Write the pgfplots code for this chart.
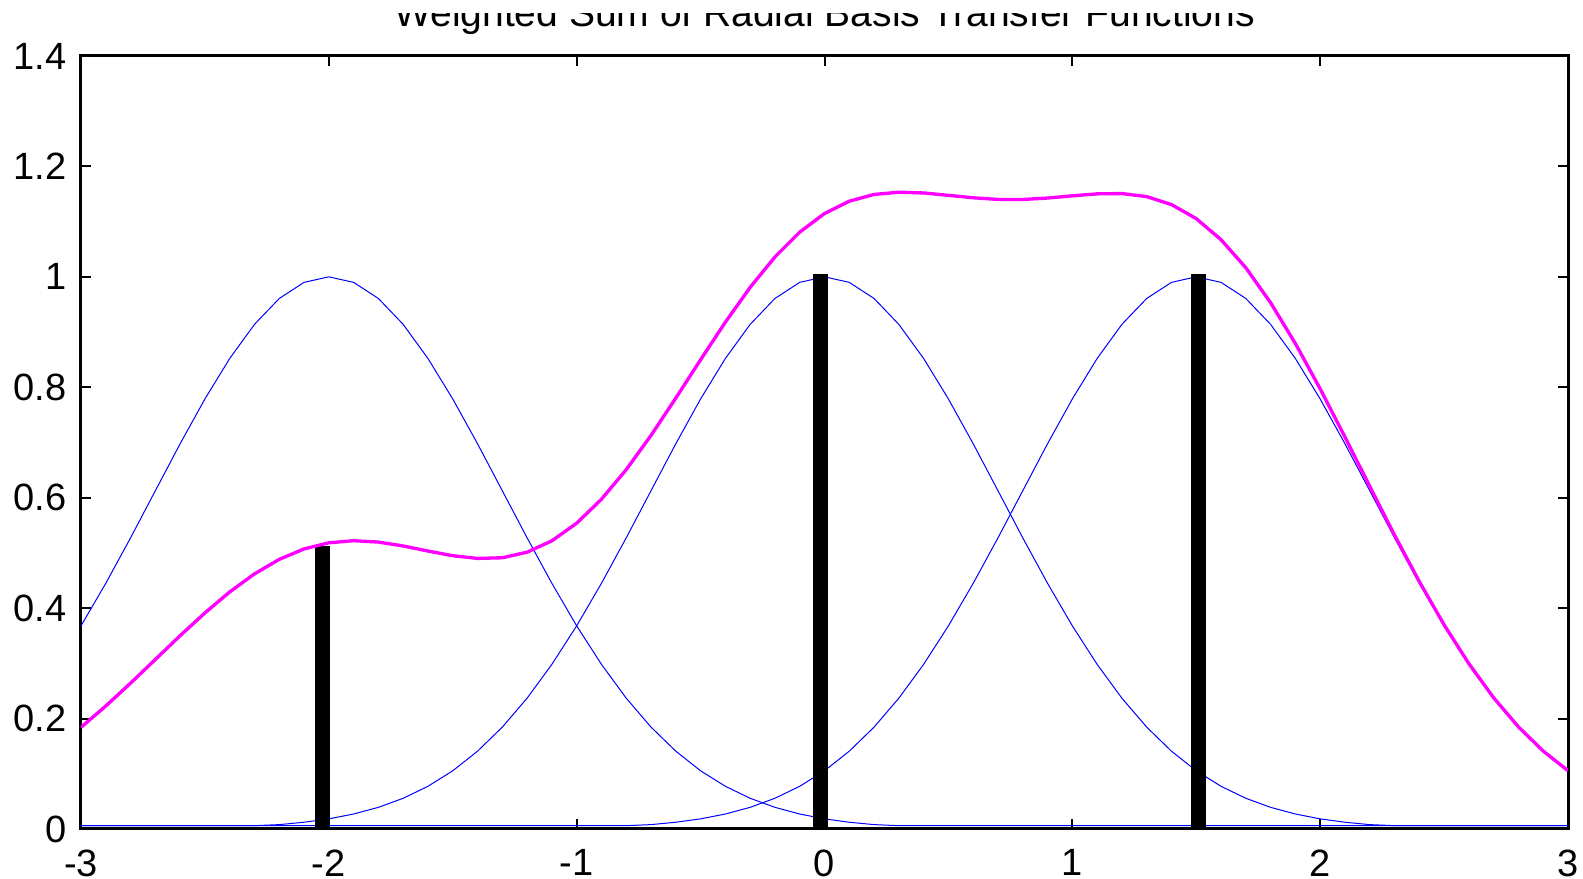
\documentclass[border=0pt]{standalone}
\usepackage{pgfplots}
\pgfplotsset{compat=1.18}
\usepackage{pgfplotstable}
\usepackage{fontspec}
\setmainfont{Liberation Sans}
\definecolor{mag}{RGB}{255,0,255}
\definecolor{blu}{RGB}{0,0,255}

\pgfplotstableread{
x a b c s
-3.0 0.3679 0.006 0.006 0.1841
-2.9 0.4449 0.006 0.006 0.2227
-2.8 0.5273 0.006 0.006 0.2641
-2.7 0.6126 0.006 0.006 0.3070
-2.6 0.6977 0.006 0.006 0.3501
-2.5 0.7788 0.006 0.006 0.3913
-2.4 0.8521 0.006 0.006 0.4293
-2.3 0.9139 0.006 0.006 0.4620
-2.2 0.9608 0.0079 0.006 0.4883
-2.1 0.9900 0.0122 0.006 0.5072
-2.0 1.0000 0.0183 0.006 0.5183
-1.9 0.9900 0.0271 0.006 0.5221
-1.8 0.9608 0.0392 0.006 0.5196
-1.7 0.9139 0.0556 0.006 0.5126
-1.6 0.8521 0.0773 0.006 0.5034
-1.5 0.7788 0.1054 0.006 0.4949
-1.4 0.6977 0.1409 0.006 0.4900
-1.3 0.6126 0.1845 0.006 0.4912
-1.2 0.5273 0.2369 0.006 0.5013
-1.1 0.4449 0.2982 0.006 0.5219
-1.0 0.3679 0.3679 0.006 0.5538
-0.9 0.2982 0.4449 0.006 0.5972
-0.8 0.2369 0.5273 0.006 0.6508
-0.7 0.1845 0.6126 0.0079 0.7128
-0.6 0.1409 0.6977 0.0122 0.7804
-0.5 0.1054 0.7788 0.0183 0.8498
-0.4 0.0773 0.8521 0.0271 0.9179
-0.3 0.0556 0.9139 0.0392 0.9809
-0.2 0.0392 0.9608 0.0556 1.0360
-0.1 0.0271 0.9900 0.0773 1.0809
0.0 0.0183 1.0000 0.1054 1.1146
0.1 0.0122 0.9900 0.1409 1.1370
0.2 0.0079 0.9608 0.1845 1.1492
0.3 0.006 0.9139 0.2369 1.1533
0.4 0.006 0.8521 0.2982 1.1519
0.5 0.006 0.7788 0.3679 1.1476
0.6 0.006 0.6977 0.4449 1.1432
0.7 0.006 0.6126 0.5273 1.1402
0.8 0.006 0.5273 0.6126 1.1401
0.9 0.006 0.4449 0.6977 1.1427
1.0 0.006 0.3679 0.7788 1.1467
1.1 0.006 0.2982 0.8521 1.1503
1.2 0.006 0.2369 0.9139 1.1508
1.3 0.006 0.1845 0.9608 1.1453
1.4 0.006 0.1409 0.9900 1.1309
1.5 0.006 0.1054 1.0000 1.1054
1.6 0.006 0.0773 0.9900 1.0673
1.7 0.006 0.0556 0.9608 1.0164
1.8 0.006 0.0392 0.9139 0.9531
1.9 0.006 0.0271 0.8521 0.8792
2.0 0.006 0.0183 0.7788 0.7971
2.1 0.006 0.0122 0.6977 0.7099
2.2 0.006 0.0079 0.6126 0.6205
2.3 0.006 0.006 0.5273 0.5323
2.4 0.006 0.006 0.4449 0.4481
2.5 0.006 0.006 0.3679 0.3698
2.6 0.006 0.006 0.2982 0.2994
2.7 0.006 0.006 0.2369 0.2376
2.8 0.006 0.006 0.1845 0.1849
2.9 0.006 0.006 0.1409 0.1411
3.0 0.006 0.006 0.1054 0.1055
}\curves

\begin{document}
\begin{tikzpicture}
\begin{axis}[
  name=ax,
  scale only axis,
  width=446.1pt, height=231.9pt,
  xmin=-3, xmax=3, ymin=0, ymax=1.4,
  axis line style={line width=0.9pt},
  xtick={-3,-2,-1,0,1,2,3},
  xticklabels={-3,-2,-1,0,1,2,3},
  ytick={0,0.2,0.4,0.6,0.8,1,1.2,1.4},
  yticklabels={0,0.2,0.4,0.6,0.8,1,1.2,1.4},
  tick align=inside,
  major tick length=3pt,
  tick style={line width=0.6pt, black},
  ticklabel style={font=\fontsize{11.4}{13}\selectfont},
  yticklabel style={inner sep=0pt, anchor=east, xshift=-4.2pt},
  xticklabel style={inner sep=0pt, anchor=north, yshift=-6.0pt},
  title={Weighted Sum of Radial Basis Transfer Functions},
  title style={font=\fontsize{11.7}{13}\selectfont, at={(0.5,1)}, anchor=base, yshift=2.75pt, inner sep=0pt},
]
\addplot[blu, line width=0.3pt] table[x=x, y=a] {\curves};
\addplot[blu, line width=0.3pt] table[x=x, y=b] {\curves};
\addplot[blu, line width=0.3pt] table[x=x, y=c] {\curves};
\addplot[black, line width=4.6pt, line cap=butt] coordinates {(-2.025,0) (-2.025,0.512)};
\addplot[black, line width=4.6pt, line cap=butt] coordinates {(-0.015,0) (-0.015,1.005)};
\addplot[black, line width=4.6pt, line cap=butt] coordinates {(1.51,0) (1.51,1.005)};
\addplot[mag, line width=1pt] table[x=x, y=s] {\curves};
\end{axis}
\fill[white] ([xshift=-24.3pt,yshift=16.8pt]ax.north west) rectangle ([xshift=4.5pt,yshift=12.9pt]ax.north east);
\pgfresetboundingbox
\path[use as bounding box] ([xshift=-24.3pt,yshift=-15pt]ax.south west) rectangle ([xshift=4.5pt,yshift=16.8pt]ax.north east);
\end{tikzpicture}
\end{document}
